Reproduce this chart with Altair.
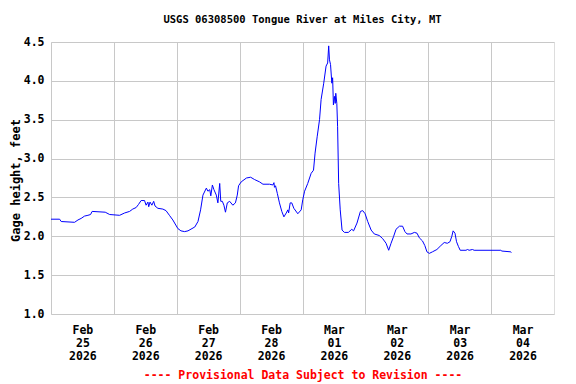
import json
import altair as alt
import pandas as pd

# Hours since 2026-02-25 00:00 and gage height (feet)
hours = [0.0, 3.3, 3.9, 9.0, 10.3, 11.5, 12.8, 14.1, 15.1, 15.7, 20.7, 22.4, 26.2, 28.1,
         30.0, 31.2, 32.5, 33.4, 34.4, 35.7, 36.3, 37.0, 37.3, 37.8, 38.5, 39.2, 39.7,
         40.8, 42.7, 43.9, 45.2, 46.5, 48.4, 49.6, 51.0, 52.3, 54.9, 56.1, 57.1, 58.0,
         59.3, 59.9, 60.6, 61.0, 61.6, 62.2, 63.1, 63.7, 64.4, 64.8, 65.4, 66.0, 66.6,
         67.3, 68.2, 69.4, 70.4, 71.1, 71.6, 72.6, 74.6, 76.2, 77.7, 79.6, 80.9, 83.4,
         84.7, 85.1, 85.3, 85.7, 86.4, 87.2, 88.1, 88.9, 89.8, 90.4, 90.7, 91.3, 91.9,
         92.7, 94.0, 94.2, 95.5, 96.1, 96.8, 98.0, 99.3, 100.2, 100.8, 101.6, 102.5,
         103.1, 104.1, 105.0, 105.6, 106.0, 106.3, 106.7, 107.2, 107.5, 107.8, 108.2,
         108.5, 108.7, 109.1, 109.4, 109.8, 110.4, 111.1, 112.0, 113.5, 114.8, 115.5,
         116.8, 118.1, 119.0, 119.9, 120.9, 122.2, 123.4, 125.3, 126.6, 127.9, 128.9,
         129.8, 130.8, 131.7, 133.0, 134.2, 135.1, 135.9, 137.4, 138.7, 139.7, 140.6,
         141.8, 142.7, 143.5, 144.4, 145.6, 147.3, 148.8, 150.1, 151.3, 152.3, 153.0,
         153.5, 154.2, 154.8, 155.5, 156.2, 158.4, 159.0, 159.6, 160.9, 161.5, 171.7,
         172.1, 175.5, 175.7]
gage = [2.22, 2.22, 2.19, 2.18, 2.21, 2.23, 2.26, 2.27, 2.28, 2.32, 2.31, 2.28, 2.27, 2.30,
        2.32, 2.35, 2.37, 2.41, 2.46, 2.46, 2.40, 2.44, 2.38, 2.44, 2.40, 2.45, 2.39,
        2.36, 2.35, 2.33, 2.27, 2.21, 2.10, 2.07, 2.06, 2.07, 2.12, 2.19, 2.34, 2.53,
        2.62, 2.58, 2.60, 2.52, 2.66, 2.60, 2.53, 2.43, 2.68, 2.45, 2.45, 2.40, 2.31,
        2.43, 2.45, 2.40, 2.43, 2.53, 2.65, 2.70, 2.75, 2.76, 2.73, 2.70, 2.67, 2.67,
        2.66, 2.69, 2.63, 2.65, 2.55, 2.43, 2.32, 2.25, 2.30, 2.34, 2.30, 2.43, 2.43,
        2.36, 2.30, 2.29, 2.34, 2.47, 2.58, 2.68, 2.81, 2.85, 3.07, 3.28, 3.50,
        3.76, 3.97, 4.19, 4.23, 4.45, 4.27, 4.21, 3.97, 4.04, 3.69, 3.80,
        3.71, 3.84, 3.71, 3.41, 2.68, 2.34, 2.08, 2.05, 2.05, 2.09, 2.07,
        2.17, 2.32, 2.33, 2.29, 2.19, 2.08, 2.03, 2.01, 1.97, 1.91, 1.82,
        1.91, 2.00, 2.09, 2.13, 2.13, 2.06, 2.03, 2.03, 2.05, 2.04, 1.98,
        1.94, 1.88, 1.80, 1.78, 1.80, 1.83, 1.88, 1.92, 1.91, 1.93, 2.00,
        2.07, 2.04, 1.93, 1.87, 1.82, 1.82, 1.83, 1.82, 1.83, 1.82, 1.82,
        1.81, 1.80, 1.79]

label_months = ["Feb", "Feb", "Feb", "Feb", "Mar", "Mar", "Mar", "Mar"]
label_days = ["25", "26", "27", "28", "01", "02", "03", "04"]
label_years = ["2026", "2026", "2026", "2026", "2026", "2026", "2026", "2026"]
y_ticks = [1.0, 1.5, 2.0, 2.5, 3.0, 3.5, 4.0, 4.5]

title_text = "USGS 06308500 Tongue River at Miles City, MT"
y_title = "Gage height, feet"
footer = "---- Provisional Data Subject to Revision ----"

df = pd.DataFrame({"hours": hours, "gage": gage})

FONT = "DejaVu Sans Mono"
x_values = [24 * i for i in range(len(label_days))]
label_expr = (
    f"[{json.dumps(label_months)}[datum.value/24], "
    f"{json.dumps(label_days)}[datum.value/24], "
    f"{json.dumps(label_years)}[datum.value/24]]"
)

chart = (
    alt.Chart(df)
    .mark_line(color="#0000FF", strokeWidth=1, clip=True)
    .encode(
        x=alt.X(
            "hours:Q",
            scale=alt.Scale(domain=[0, 192], nice=False, zero=False),
            axis=alt.Axis(
                values=x_values,
                labelExpr=label_expr,
                labelOffset=31.4,
                labelFlush=False,
                labelOverlap=False,
                labelBound=False,
                labelPadding=10,
                labelLineHeight=13,
                labelFont=FONT,
                labelFontSize=11.5,
                labelFontWeight="bold",
                labelColor="black",
                ticks=False,
                tickSize=0,
                domain=False,
                grid=True,
                gridColor="#C8C8C8",
                gridWidth=1,
                title=footer,
                titleFont=FONT,
                titleFontSize=11.5,
                titleFontWeight="bold",
                titleColor="#FF0000",
                titlePadding=8,
            ),
        ),
        y=alt.Y(
            "gage:Q",
            scale=alt.Scale(domain=[1.0, 4.5], nice=False, zero=False),
            axis=alt.Axis(
                values=y_ticks,
                format=".1f",
                labelFont=FONT,
                labelFontSize=11.5,
                labelFontWeight="bold",
                labelColor="black",
                labelPadding=7,
                ticks=False,
                tickSize=0,
                domain=False,
                grid=True,
                gridColor="#C8C8C8",
                gridWidth=1,
                title=y_title,
                titleFont=FONT,
                titleFontSize=12,
                titleFontWeight="bold",
                titleColor="black",
                titleX=-36,
                titleY=138,
                titleAlign="center",
                titleBaseline="middle",
                titleAngle=270,
            ),
        ),
    )
    .properties(
        width=503,
        height=272,
        autosize=alt.AutoSizeParams(type="none"),
        padding={"left": 43, "top": 34, "right": 12, "bottom": 69},
        title=alt.TitleParams(
            title_text,
            font=FONT,
            fontSize=10.5,
            fontWeight="bold",
            color="black",
            anchor="middle",
            offset=11,
        ),
    )
    .configure_view(stroke="black", strokeWidth=1)
    .configure(background="white")
)

chart.save("out.html", embed_options={"renderer": "svg", "actions": False})
